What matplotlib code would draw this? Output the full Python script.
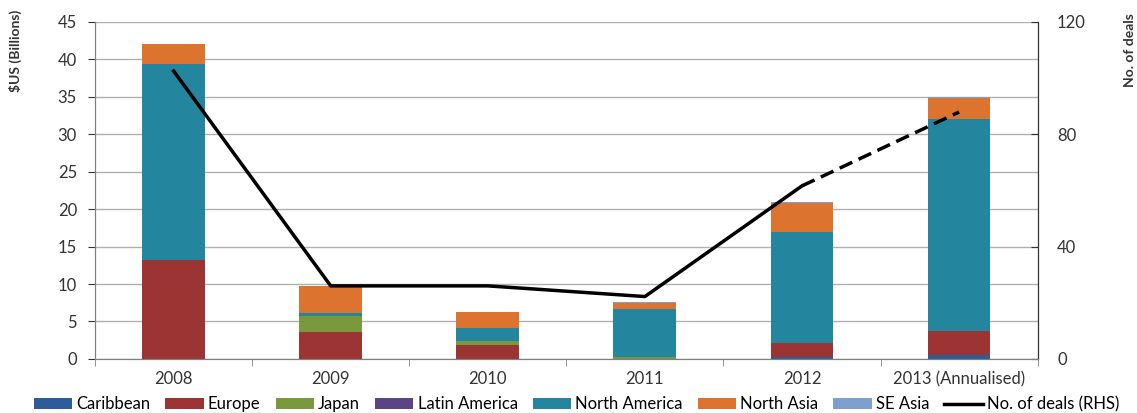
import matplotlib
matplotlib.use('Agg')
import matplotlib.pyplot as plt
import numpy as np

plt.rcParams['font.family'] = ['Lato', 'DejaVu Sans']
text_size = 12

years = ['2008', '2009', '2010', '2011', '2012', '2013 (Annualised)']
caribbean = [0.0, 0.0, 0.0, 0.0, 0.2, 0.5]
europe = [13.2, 3.6, 1.8, 0.0, 1.9, 3.2]
japan = [0.0, 2.1, 0.6, 0.2, 0.0, 0.0]
latin_america = [0.0, 0.0, 0.0, 0.0, 0.0, 0.0]
north_america = [26.2, 0.4, 1.7, 6.4, 14.9, 28.3]
north_asia = [2.7, 3.6, 2.1, 0.9, 3.8, 2.8]
se_asia = [0.0, 0.1, 0.0, 0.1, 0.2, 0.2]
deals = [102.5, 26, 26, 22.2, 61.6, 87.9]

series = [('Caribbean', caribbean, '#2E5C9A'),
          ('Europe', europe, '#9B3432'),
          ('Japan', japan, '#7A993C'),
          ('Latin America', latin_america, '#5B4485'),
          ('North America', north_america, '#23869E'),
          ('North Asia', north_asia, '#DC7430'),
          ('SE Asia', se_asia, '#7F9FCF')]


def main():
  fig = plt.figure(figsize=(11.37, 4.13), dpi=100)
  ax1 = fig.add_axes([0.0836, 0.131, 0.829, 0.816])
  x = np.arange(len(years))
  bottom = np.zeros(len(years))
  handles = []
  for name, vals, color in series:
    vals = np.array(vals)
    h = ax1.bar(x, vals, 0.4, bottom=bottom, color=color, label=name, zorder=2)
    handles.append(h)
    bottom += vals

  ax1.set_ylim(0, 45)
  ax1.set_yticks(np.arange(0, 46, 5))
  ax1.set_xlim(-0.5, len(years) - 0.5)
  ax1.set_xticks(x)
  ax1.set_xticklabels(years)
  ax1.set_xticks(np.arange(-0.5, len(years), 1), minor=True)
  ax1.tick_params(axis='x', which='major', length=0, pad=9)
  ax1.tick_params(axis='x', which='minor', length=5, color='#808080')
  ax1.tick_params(axis='y', length=5, color='#808080', pad=8)
  ax1.tick_params(labelsize=text_size, colors='#333333')
  ax1.grid(axis='y', color='#b0b0b0', linewidth=1, zorder=0)
  ax1.set_axisbelow(True)
  ax1.set_ylabel('$US (Billions)', fontsize=text_size - 2, fontweight='bold', color='#333333')
  ax1.yaxis.set_label_coords(-0.078, 0.915)
  ax1.spines['top'].set_visible(False)
  for s in ['left', 'bottom']:
    ax1.spines[s].set_color('#808080')

  ax2 = ax1.twinx()
  line, = ax2.plot(x[:5], deals[:5], color='black', linewidth=2.5, label='No. of deals (RHS)', zorder=5)
  ax2.plot(x[4:], deals[4:], color='black', linewidth=2.5, linestyle=(0, (4, 2)), zorder=5)
  ax2.set_ylim(0, 120)
  ax2.set_yticks([0, 40, 80, 120])
  ax2.tick_params(labelsize=text_size, colors='#333333', length=5, direction='in', pad=14)
  ax2.tick_params(color='#333333')
  ax2.set_ylabel('No. of deals', fontsize=text_size - 2, fontweight='bold', color='#333333', rotation=90)
  ax2.yaxis.set_label_coords(1.092, 0.915)
  ax2.spines['top'].set_visible(False)
  ax2.spines['right'].set_color('#333333')
  ax2.spines['left'].set_color('#808080')
  ax2.spines['bottom'].set_color('#808080')

  handles.append(line)
  labels = [s[0] for s in series] + ['No. of deals (RHS)']
  fig.legend(handles, labels, loc='lower center', bbox_to_anchor=(0.507, -0.035), ncol=8,
             frameon=False, fontsize=text_size, handlelength=2.3, handleheight=0.7,
             columnspacing=0.9, handletextpad=0.25)
  fig.savefig('out.png', dpi=100)


if __name__ == '__main__':
  main()
